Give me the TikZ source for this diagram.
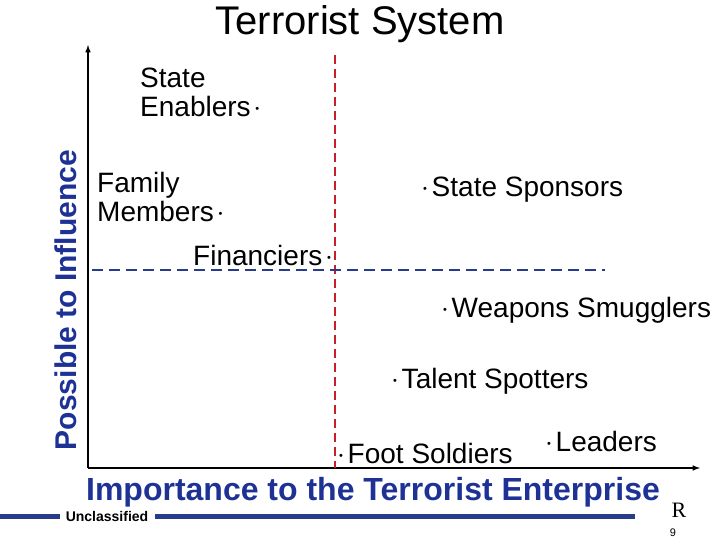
\documentclass[tikz,border=0pt]{standalone}
\usepackage{fontspec}
\setmainfont{Liberation Sans}
\newfontfamily\serifx{Liberation Serif}
\definecolor{navy}{RGB}{30,50,150}
\definecolor{dred}{RGB}{200,30,40}
\definecolor{dblue}{RGB}{40,60,140}
\newcommand{\bt}{\raisebox{4pt}{\fontsize{11}{11}\selectfont•}}
\begin{document}
\begin{tikzpicture}[x=1pt,y=-1pt,
  lbl/.style={inner sep=0pt,font=\fontsize{28}{29}\selectfont,align=left}]
\useasboundingbox (0,0) rectangle (720,540);
\node (title) at (360,24) {\fontsize{40}{42}\selectfont Terrorist System};
\coordinate (o) at (88,468);
\coordinate (ytop) at (88,45);
\coordinate (xend) at (700,468);
\draw[line width=1.5pt,-latex] (o) -- (ytop);
\draw[line width=1.5pt,-latex] (o) -- (xend);
\node[rotate=90,text=navy,font=\bfseries\fontsize{30}{32}\selectfont] (ylab) at (66,300) {Possible to Influence};
\coordinate (r1) at (335,55); \coordinate (r2) at (335,468);
\draw[dred,dash pattern=on 9pt off 5pt,line width=1.2pt] (r1) -- (r2);
\coordinate (b1) at (92,270); \coordinate (b2) at (605,270);
\draw[dblue,dash pattern=on 11pt off 6pt,line width=1.2pt] (b1) -- (b2);
\node[lbl,anchor=north west] (se) at (140,68) {State\\Enablers\,\bt};
\node[lbl,anchor=north west] (fm) at (97,172) {Family\\Members\,\bt};
\node[lbl,anchor=west] (fin) at (193,255) {Financiers\,\bt};
\node[lbl,anchor=west] (ss) at (423,190) {\bt\,State Sponsors};
\node[lbl,anchor=west] (ws) at (443,310) {\bt\,Weapons Smugglers};
\node[lbl,anchor=west] (ts) at (393,381) {\bt\,Talent Spotters};
\node[lbl,anchor=west] (fs) at (339,453) {\bt\,Foot Soldiers};
\node[lbl,anchor=west] (ld) at (547,441) {\bt\,Leaders};
\node[text=navy,font=\bfseries\fontsize{32}{34}\selectfont] (xlab) at (373,492) {Importance to the Terrorist Enterprise};
\coordinate (l1) at (0,516); \coordinate (l2) at (60,516);
\coordinate (l3) at (155,516); \coordinate (l4) at (635,516);
\draw[dblue,line width=5pt] (l1) -- (l2);
\draw[dblue,line width=5pt] (l3) -- (l4);
\node[font=\bfseries\fontsize{14}{15}\selectfont] (uc) at (107,516) {Unclassified};
\node[font=\serifx\fontsize{22}{22}\selectfont] (r) at (679,510) {R};
\node[font=\fontsize{11}{11}\selectfont] (pg) at (673,533) {9};
\end{tikzpicture}
\end{document}
